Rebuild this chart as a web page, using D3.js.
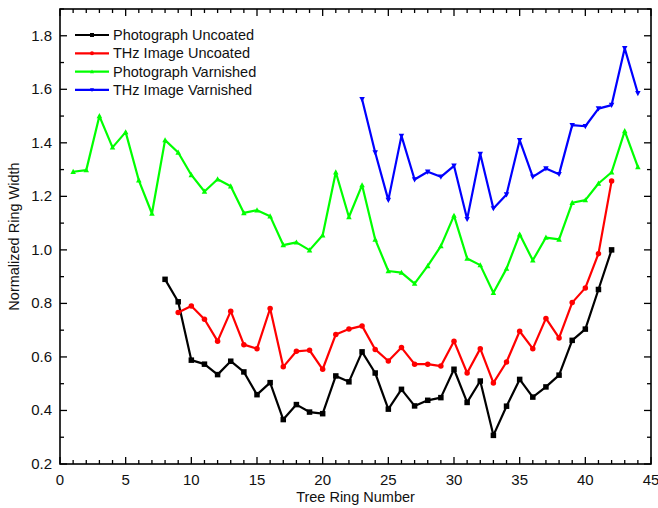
<!DOCTYPE html>
<html>
<head>
<meta charset="utf-8">
<script src="https://cdn.jsdelivr.net/npm/d3@7"></script>
<style>
  body { margin: 0; background: #fff; }
  svg { display: block; font-family: "Liberation Sans", Arial, sans-serif; }
</style>
</head>
<body>
<svg id="chart" width="658" height="508"></svg>
<script>
// ring numbers for each series
const ringsPhotoUncoated = d3.range(8, 43)
const ringsThzUncoated = d3.range(9, 43)
const ringsPhotoVarnished = d3.range(1, 45)
const ringsThzVarnished = d3.range(23, 45)

const photoUncoated = [0.89, 0.806, 0.588, 0.573, 0.534, 0.584, 0.544, 0.459, 0.504, 0.366,
  0.422, 0.394, 0.388, 0.529, 0.507, 0.619, 0.54, 0.405, 0.479, 0.417,
  0.438, 0.448, 0.554, 0.43, 0.51, 0.307, 0.416, 0.516, 0.45, 0.488,
  0.532, 0.662, 0.704, 0.852, 1.0]
const thzUncoated = [0.766, 0.79, 0.741, 0.659, 0.771, 0.646, 0.631, 0.781, 0.563, 0.621,
  0.625, 0.554, 0.684, 0.704, 0.716, 0.628, 0.585, 0.635, 0.573, 0.573,
  0.566, 0.659, 0.54, 0.631, 0.503, 0.581, 0.696, 0.631, 0.744, 0.671,
  0.803, 0.858, 0.986, 1.257]
const photoVarnished = [1.292, 1.298, 1.5, 1.383, 1.44, 1.26, 1.136, 1.41, 1.364, 1.28,
  1.218, 1.264, 1.238, 1.138, 1.148, 1.126, 1.018, 1.028, 0.999, 1.055,
  1.29, 1.123, 1.242, 1.039, 0.921, 0.915, 0.874, 0.94, 1.014, 1.128,
  0.968, 0.943, 0.84, 0.93, 1.058, 0.961, 1.046, 1.039, 1.176, 1.186,
  1.248, 1.29, 1.444, 1.31]
const thzVarnished = [1.563, 1.364, 1.186, 1.426, 1.263, 1.292, 1.273, 1.314, 1.115, 1.358,
  1.155, 1.207, 1.41, 1.273, 1.304, 1.283, 1.466, 1.462, 1.528, 1.541,
  1.753, 1.585]

const xTicks = [0, 5, 10, 15, 20, 25, 30, 35, 40, 45]
const yTicks = [0.2, 0.4, 0.6, 0.8, 1.0, 1.2, 1.4, 1.6, 1.8]

const series = [
  { name: 'Photograph Uncoated', x: ringsPhotoUncoated, y: photoUncoated, color: '#000000', symbol: 'square' },
  { name: 'THz Image Uncoated', x: ringsThzUncoated, y: thzUncoated, color: '#ff0000', symbol: 'circle' },
  { name: 'Photograph Varnished', x: ringsPhotoVarnished, y: photoVarnished, color: '#00ff00', symbol: 'up' },
  { name: 'THz Image Varnished', x: ringsThzVarnished, y: thzVarnished, color: '#0000ff', symbol: 'down' },
]

const pLeft = 60, pRight = 651, pTop = 9, pBottom = 464
const svg = d3.select('#chart')
const x = d3.scaleLinear().domain([0, 45]).range([pLeft, pRight])
const y = d3.scaleLinear().domain([0.2, 1.9]).range([pBottom, pTop])

// ticks all point inward, on all four sides
const majorLen = 7, minorLen = 4
const ax = svg.append('g').attr('stroke', '#000').attr('stroke-width', 1.3)
const xMinor = d3.range(0, 46, 1)
const yMinor = d3.range(0.2, 1.91, 0.1)
xMinor.forEach((v) => {
  const len = v % 5 === 0 ? majorLen : minorLen
  ax.append('line').attr('x1', x(v)).attr('x2', x(v)).attr('y1', pBottom).attr('y2', pBottom - len)
  ax.append('line').attr('x1', x(v)).attr('x2', x(v)).attr('y1', pTop).attr('y2', pTop + len)
})
yMinor.forEach((v, i) => {
  const len = i % 2 === 0 ? majorLen : minorLen
  ax.append('line').attr('y1', y(v)).attr('y2', y(v)).attr('x1', pLeft).attr('x2', pLeft + len)
  ax.append('line').attr('y1', y(v)).attr('y2', y(v)).attr('x1', pRight).attr('x2', pRight - len)
})
svg.append('rect')
  .attr('x', pLeft).attr('y', pTop)
  .attr('width', pRight - pLeft).attr('height', pBottom - pTop)
  .attr('fill', 'none').attr('stroke', '#000').attr('stroke-width', 1.6)

svg.append('g').selectAll('text').data(xTicks).join('text')
  .attr('x', (d) => x(d)).attr('y', pBottom + 21)
  .attr('text-anchor', 'middle').attr('font-size', 15).attr('fill', '#111')
  .text((d) => d)
svg.append('g').selectAll('text').data(yTicks).join('text')
  .attr('x', pLeft - 8).attr('y', (d) => y(d) + 5)
  .attr('text-anchor', 'end').attr('font-size', 15).attr('fill', '#111')
  .text((d) => d.toFixed(1))

svg.append('text').attr('x', (pLeft + pRight) / 2).attr('y', 502)
  .attr('text-anchor', 'middle').attr('font-size', 14.5).attr('fill', '#111')
  .text('Tree Ring Number')
svg.append('text').attr('transform', `translate(19,${(pTop + pBottom) / 2}) rotate(-90)`)
  .attr('text-anchor', 'middle').attr('font-size', 14.5).attr('fill', '#111')
  .text('Normalized Ring Width')

function marker(g, sym, cx, cy, color, s) {
  if (sym === 'square') {
    g.append('rect').attr('x', cx - s / 2).attr('y', cy - s / 2).attr('width', s).attr('height', s).attr('fill', color)
  } else if (sym === 'circle') {
    g.append('circle').attr('cx', cx).attr('cy', cy).attr('r', s / 2).attr('fill', color)
  } else {
    const d = sym === 'up' ? -1 : 1
    const h = s * 0.9
    g.append('path')
      .attr('d', `M${cx},${cy + d * h * 0.6}L${cx - s / 2},${cy - d * h * 0.45}L${cx + s / 2},${cy - d * h * 0.45}Z`)
      .attr('fill', color)
  }
}

const line = d3.line().x((d) => x(d[0])).y((d) => y(d[1]))
series.forEach((s) => {
  const pts = s.x.map((v, i) => [v, s.y[i]])
  const g = svg.append('g')
  g.append('path').attr('d', line(pts)).attr('fill', 'none')
    .attr('stroke', s.color).attr('stroke-width', 2.2).attr('stroke-linejoin', 'round')
  pts.forEach((p) => marker(g, s.symbol, x(p[0]), y(p[1]), s.color, 5.5))
})

// legend
const lg = svg.append('g')
series.forEach((s, i) => {
  const ly = 35 + i * 18.3
  lg.append('line').attr('x1', 75).attr('x2', 109).attr('y1', ly).attr('y2', ly)
    .attr('stroke', s.color).attr('stroke-width', 2.2)
  marker(lg, s.symbol, 92, ly, s.color, 4)
  lg.append('text').attr('x', 113).attr('y', ly + 5).attr('font-size', 14.5).attr('fill', '#111').text(s.name)
})
</script>
</body>
</html>
